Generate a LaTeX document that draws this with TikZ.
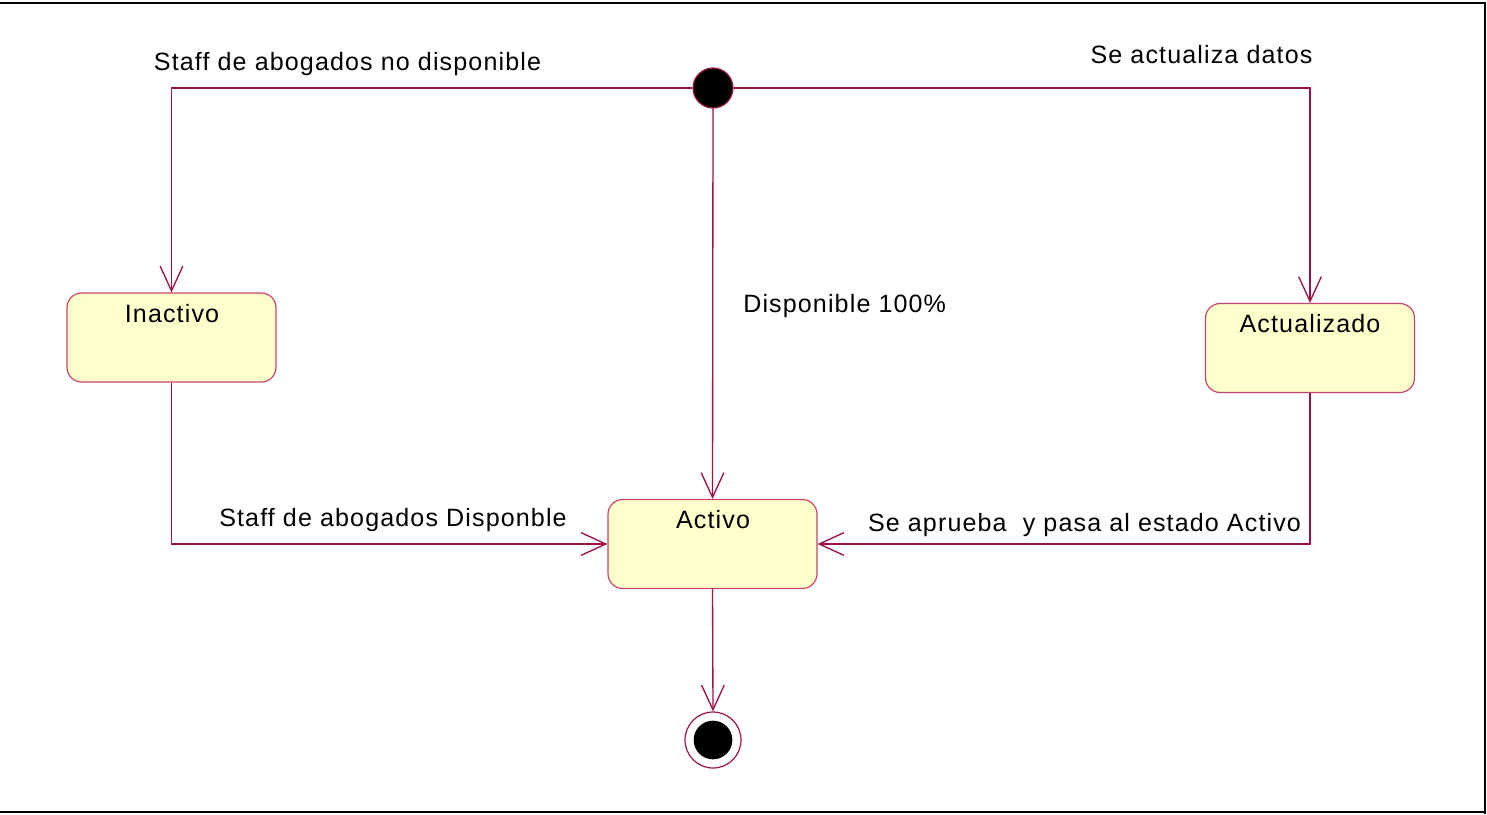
\documentclass[tikz,border=0pt]{standalone}
\usepackage{fontspec}
\setmainfont{Liberation Sans}[LetterSpace=4.5]
\usetikzlibrary{arrows.meta}
\definecolor{umlline}{RGB}{160,16,72}
\definecolor{umlborder}{RGB}{200,70,110}
\definecolor{umlfill}{RGB}{255,255,204}
\tikzset{
  statebox/.style={draw=umlborder, fill=umlfill, line width=0.9pt, rounded corners=11pt,
    minimum width=156.75pt, minimum height=66.75pt, inner sep=0pt},
  lbl/.style={font=\fontsize{18.8}{20}\selectfont, inner sep=0pt, anchor=base},
  trans/.style={draw=umlline, line width=1pt, -{Straight Barb[length=18.5pt, width=17pt, line width=1pt]}},
}
\begin{document}
\begin{tikzpicture}[x=0.75pt, y=-0.75pt]
\useasboundingbox (0,0) rectangle (1487,814);
% frame
\draw[line width=2.2pt] (0,3) -- (1485,3) -- (1485,814);
\draw[line width=2.2pt] (0,812) -- (1485,812);
% states
\node[circle, fill=black, draw=umlline, line width=0.9pt, minimum size=30pt, inner sep=0pt] (init) at (713,88) {};
\node[statebox] (inact) at (171.5,337.5) {};
\node[statebox] (activo) at (712.5,544) {};
\node[statebox] (actual) at (1310,348) {};
\node[circle, draw=umlline, line width=0.9pt, minimum size=42pt, inner sep=0pt] (fin) at (713,740) {};
\node[circle, fill=black, minimum size=29pt, inner sep=0pt] (finin) at (713,740) {};
% titles
\node[lbl] (tInact) at (172,322) {Inactivo};
\node[lbl] (tActivo) at (713,528) {Activo};
\node[lbl] (tActual) at (1310,332) {Actualizado};
% transitions
\draw[trans] (init.west) -| (inact.north);
\draw[trans] (init.east) -| (actual.north);
\draw[trans] (init.south) -- (activo.north);
\draw[trans] (inact.south) |- (activo.west);
\draw[trans] (actual.south) |- (activo.east);
\draw[trans] (activo.south) -- (fin.north);
% labels
\node[lbl] (l1) at (347.5,70) {Staff de abogados no disponible};
\node[lbl] (l2) at (1201.5,63) {Se actualiza datos};
\node[lbl, anchor=base west] (l3) at (743,312) {Disponible 100\%};
\node[lbl] (l4) at (393,526) {Staff de abogados Disponble};
\node[lbl] (l5) at (1084.5,531) {Se aprueba~ y pasa al estado Activo};
\end{tikzpicture}
\end{document}
